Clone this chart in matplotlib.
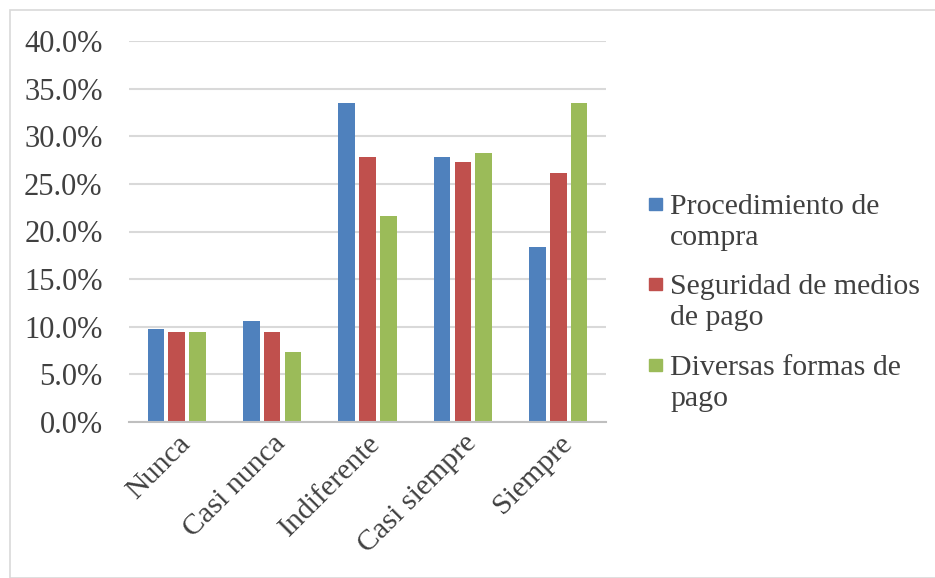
import numpy as np
import matplotlib.pyplot as plt
from matplotlib.patches import Rectangle
from matplotlib.ticker import PercentFormatter

plt.rcParams['font.family'] = ['Liberation Serif', 'DejaVu Serif']

categorias = ['Nunca', 'Casi nunca', 'Indiferente', 'Casi siempre', 'Siempre']
series = ['Procedimiento de\ncompra', 'Seguridad de medios\nde pago', 'Diversas formas de\npago']
procedimiento = [0.098, 0.106, 0.335, 0.278, 0.184]
seguridad = [0.094, 0.094, 0.278, 0.273, 0.261]
formas_pago = [0.094, 0.073, 0.216, 0.282, 0.335]
colores = ['#4F81BD', '#C0504D', '#9BBB59']
gris_texto = '#404040'

W, H = 935, 578
fig = plt.figure(figsize=(W / 100, H / 100), dpi=100)
# marco gris alrededor del grafico
fig.patches.append(Rectangle((10 / W, 0), 1, 1 - 10 / H, transform=fig.transFigure,
                             fill=False, edgecolor='#D9D9D9', linewidth=1.2))
ax = fig.add_axes([129 / W, 156 / H, 477 / W, 381 / H])

x = np.arange(len(categorias))
ancho = 0.175
paso = 0.218
for i, vals in enumerate([procedimiento, seguridad, formas_pago]):
    ax.bar(x + (i - 1) * paso, vals, ancho, color=colores[i], zorder=3)

ax.set_ylim(0, 0.40)
ax.set_xlim(-0.5, len(categorias) - 0.5)
ax.set_yticks(np.arange(0, 0.401, 0.05))
ax.yaxis.set_major_formatter(PercentFormatter(1.0, decimals=1))
ax.grid(axis='y', color='#D9D9D9', linewidth=1.5, zorder=0)
for s in ['top', 'right', 'left']:
    ax.spines[s].set_visible(False)
ax.spines['bottom'].set_color('#BFBFBF')
ax.spines['bottom'].set_linewidth(1.5)
ax.spines['bottom'].set_zorder(4)

ax.tick_params(axis='y', length=0, pad=19, labelsize=22, labelcolor=gris_texto)
ax.tick_params(axis='x', length=0, pad=6, labelsize=21.5, labelcolor=gris_texto)
ax.set_xticks(x)
ax.set_xticklabels(categorias, rotation=45, ha='right', rotation_mode='anchor')

# leyenda: cuadro alineado con la primera linea de cada entrada
base_y = [212, 292, 373]
paso_linea = 33
for nombre, color, yb in zip(series, colores, base_y):
    fig.patches.append(Rectangle((649 / W, 1 - (yb - 2) / H), 13 / W, 12 / H,
                                 transform=fig.transFigure, color=color))
    # va='baseline' usa la linea de abajo del texto de dos lineas
    fig.text(670 / W, 1 - (yb + paso_linea) / H, nombre, fontsize=21.5, color=gris_texto,
             va='baseline', ha='left', linespacing=1.27,
             transform=fig.transFigure)

fig.savefig('out.png', dpi=100)
